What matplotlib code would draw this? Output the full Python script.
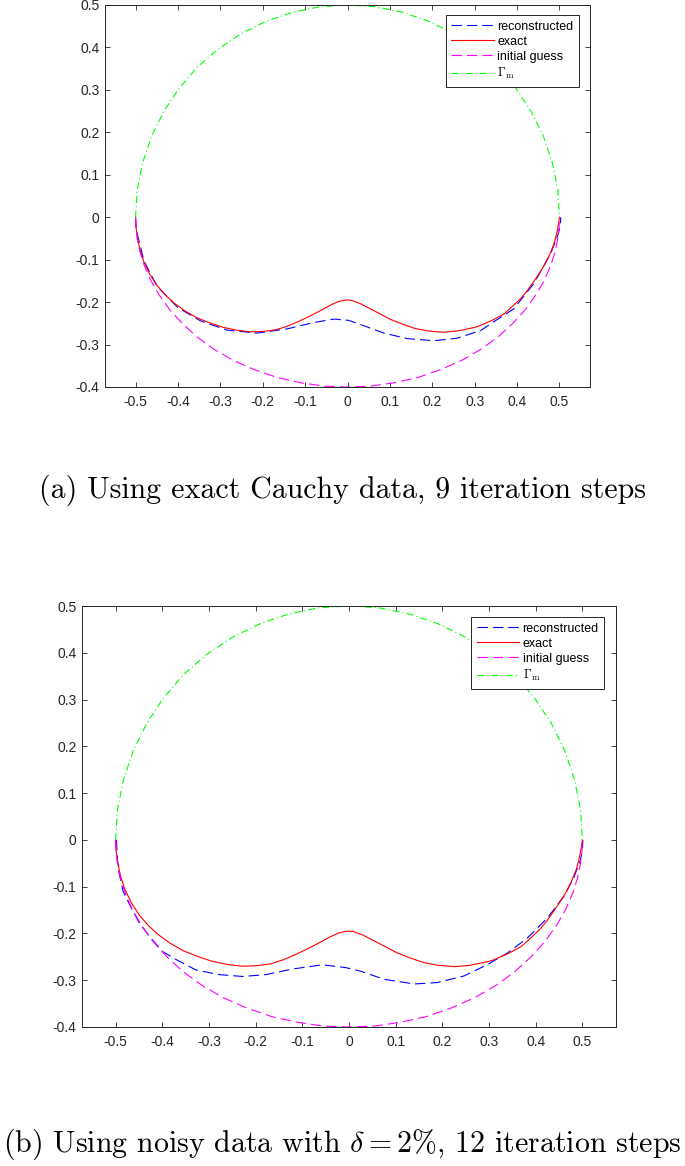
import matplotlib
matplotlib.use("Agg")
import matplotlib.pyplot as plt

plt.rcParams['font.family'] = ['Liberation Sans', 'DejaVu Sans']
plt.rcParams['mathtext.fontset'] = 'cm'
plt.rcParams['axes.unicode_minus'] = False
plt.rcParams['lines.scale_dashes'] = False

# Gamma_m : known upper arc (same in both panels)
GAMMA_X = [-0.500, -0.496, -0.483, -0.462, -0.433, -0.397, -0.354, -0.304, -0.250, -0.191,
           -0.129, -0.065, 0.000, 0.065, 0.129, 0.191, 0.250, 0.304, 0.354, 0.397,
           0.433, 0.462, 0.483, 0.496, 0.500]
GAMMA_Y = [0.000, 0.065, 0.129, 0.191, 0.250, 0.304, 0.354, 0.397, 0.433, 0.462,
           0.483, 0.496, 0.500, 0.496, 0.483, 0.462, 0.433, 0.397, 0.354, 0.304,
           0.250, 0.191, 0.129, 0.065, 0.000]

# exact boundary (same in both panels)
EXACT_X = [-0.500, -0.499, -0.496, -0.490, -0.480, -0.466, -0.449, -0.430, -0.408, -0.383,
           -0.355, -0.325, -0.295, -0.262, -0.230, -0.198, -0.168, -0.140, -0.112, -0.085,
           -0.060, -0.040, -0.022, -0.010, 0.000, 0.010, 0.031, 0.060, 0.085, 0.102,
           0.130, 0.159, 0.190, 0.226, 0.260, 0.289, 0.306, 0.339, 0.369, 0.389,
           0.410, 0.424, 0.439, 0.455, 0.466, 0.476, 0.487, 0.493, 0.497, 0.500]
EXACT_Y = [0.000, -0.022, -0.045, -0.075, -0.106, -0.135, -0.161, -0.183, -0.203, -0.221,
           -0.237, -0.249, -0.259, -0.266, -0.270, -0.269, -0.265, -0.256, -0.244, -0.231,
           -0.218, -0.207, -0.199, -0.196, -0.195, -0.196, -0.204, -0.219, -0.232, -0.241,
           -0.252, -0.262, -0.268, -0.271, -0.268, -0.262, -0.258, -0.244, -0.228, -0.210,
           -0.190, -0.173, -0.152, -0.128, -0.110, -0.090, -0.063, -0.040, -0.020, 0.000]

# initial guess (same in both panels)
INIT_X = [-0.500, -0.499, -0.496, -0.490, -0.480, -0.465, -0.445, -0.420, -0.390, -0.355,
          -0.315, -0.270, -0.220, -0.165, -0.110, -0.055, 0.000, 0.055, 0.110, 0.165,
          0.220, 0.270, 0.315, 0.355, 0.390, 0.420, 0.445, 0.465, 0.480, 0.490,
          0.496, 0.499, 0.500]
INIT_Y = [0.000, -0.025, -0.050, -0.080, -0.112, -0.147, -0.182, -0.217, -0.250, -0.282,
          -0.311, -0.337, -0.359, -0.378, -0.390, -0.398, -0.400, -0.398, -0.390, -0.378,
          -0.359, -0.337, -0.311, -0.282, -0.250, -0.217, -0.182, -0.147, -0.112, -0.080,
          -0.050, -0.025, 0.000]

# reconstruction, exact Cauchy data
REC_A_X = [-0.500, -0.499, -0.496, -0.480, -0.449, -0.400, -0.347, -0.284, -0.213, -0.142,
           -0.079, -0.032, 0.003, 0.031, 0.086, 0.141, 0.204, 0.259, 0.314, 0.350,
           0.392, 0.439, 0.479, 0.497, 0.502, 0.503]
REC_A_Y = [0.000, -0.020, -0.039, -0.103, -0.163, -0.213, -0.244, -0.266, -0.273, -0.263,
           -0.248, -0.240, -0.243, -0.253, -0.273, -0.286, -0.291, -0.285, -0.267, -0.243,
           -0.216, -0.157, -0.086, -0.040, -0.018, 0.000]

# reconstruction, noisy data
REC_B_X = [-0.498, -0.497, -0.494, -0.484, -0.466, -0.449, -0.427, -0.399, -0.370, -0.328,
           -0.278, -0.228, -0.178, -0.121, -0.057, -0.007, 0.026, 0.075, 0.140, 0.189,
           0.246, 0.296, 0.339, 0.382, 0.425, 0.460, 0.481, 0.496, 0.500, 0.501]
REC_B_Y = [0.000, -0.030, -0.064, -0.110, -0.146, -0.178, -0.207, -0.239, -0.256, -0.278,
           -0.288, -0.292, -0.288, -0.276, -0.267, -0.273, -0.281, -0.298, -0.308, -0.305,
           -0.291, -0.267, -0.242, -0.210, -0.167, -0.121, -0.082, -0.043, -0.020, 0.000]

XTICKS = [-0.5, -0.4, -0.3, -0.2, -0.1, 0, 0.1, 0.2, 0.3, 0.4, 0.5]
YTICKS = [-0.4, -0.3, -0.2, -0.1, 0, 0.1, 0.2, 0.3, 0.4, 0.5]

CAPTION_A = '(a) Using exact Cauchy data, 9 iteration steps'
CAPTION_B = r'(b) Using noisy data with $\delta = 2\%$, 12 iteration steps'

W, H = 685, 1166
AXCOL = '#262626'


def panel(fig, box, rec_x, rec_y, leg_anchor):
    # box in pixels: left, top, right, bottom
    l, t, r, b = box
    ax = fig.add_axes([l / W, 1 - b / H, (r - l) / W, (b - t) / H])
    dash = (0, (7.5, 3.6))
    ax.plot(rec_x, rec_y, color=(0, 0, 1), lw=0.8, ls=dash, label='reconstructed')
    ax.plot(EXACT_X, EXACT_Y, color=(1, 0, 0), lw=0.8, ls='-', label='exact')
    ax.plot(INIT_X, INIT_Y, color=(1, 0, 1), lw=0.8, ls=dash, label='initial guess')
    ax.plot(GAMMA_X, GAMMA_Y, color=(0, 1, 0), lw=0.8, ls=(0, (5, 2.2, 0.8, 2.2)),
            label=r'$\Gamma_{\rm m}$')
    ax.set_xlim(-0.572, 0.572)
    ax.set_ylim(-0.4, 0.5)
    ax.set_xticks(XTICKS)
    ax.set_yticks(YTICKS)
    ax.set_xticklabels(['{:g}'.format(v) for v in XTICKS])
    ax.set_yticklabels(['{:g}'.format(v) for v in YTICKS])
    ax.tick_params(direction='in', top=True, right=True, length=3.8, width=0.6,
                   labelsize=10, colors=AXCOL, pad=4)
    ax.tick_params(axis='x', pad=6)
    for sp in ax.spines.values():
        sp.set_color(AXCOL)
        sp.set_linewidth(0.7)
    leg = ax.legend(loc='upper right', bbox_to_anchor=leg_anchor, fontsize=9,
                    frameon=True, fancybox=False, framealpha=1, edgecolor=AXCOL,
                    handlelength=3.4, handletextpad=0.25, labelspacing=0.25,
                    borderpad=0.45, borderaxespad=0)
    leg.get_frame().set_linewidth(0.7)
    return ax


fig = plt.figure(figsize=(W / 100, H / 100), dpi=100)

panel(fig, (105, 5, 590, 387), REC_A_X, REC_A_Y, (0.977, 0.974))
panel(fig, (82, 606, 616, 1027), REC_B_X, REC_B_Y, (0.978, 0.974))

fig.text(0.5, 1 - 490 / H, CAPTION_A, family='cmr10', size=21.5, ha='center', va='center')
fig.text(0.5, 1 - 1144 / H, CAPTION_B, family='cmr10', size=21.5, ha='center', va='center')

fig.savefig('out.png', dpi=100)
